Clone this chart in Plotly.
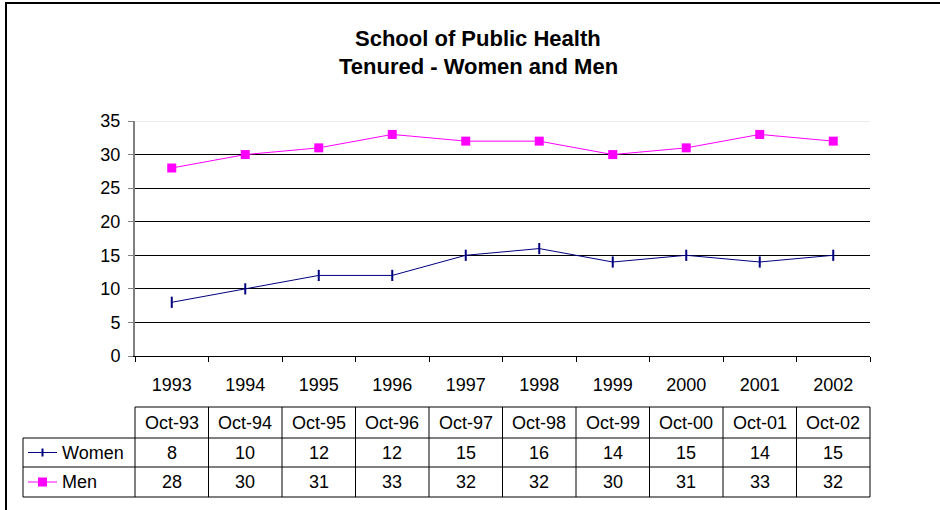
import plotly.graph_objects as go

# data
years = ["1993", "1994", "1995", "1996", "1997", "1998", "1999", "2000", "2001", "2002"]
dates = ["Oct-93", "Oct-94", "Oct-95", "Oct-96", "Oct-97", "Oct-98", "Oct-99", "Oct-00", "Oct-01", "Oct-02"]
women = [8, 10, 12, 12, 15, 16, 14, 15, 14, 15]
men = [28, 30, 31, 33, 32, 32, 30, 31, 33, 32]

FONT = "Liberation Sans, Arial, sans-serif"
NAVY = "#000080"
MAGENTA = "#FF00FF"

W, H = 940, 510
L, R, T, B = 135, 70, 121, 154   # plot area 135..870 x 121..356
PW, PH = W - L - R, H - T - B


def px_x(p):
    return (p - L) / PW


def px_y(p):
    return (H - B - p) / PH


fig = go.Figure()
fig.add_trace(go.Scatter(
    x=years, y=women, name="Women", mode="lines+markers",
    line=dict(color=NAVY, width=1),
    marker=dict(symbol="line-ns", size=8, line=dict(color=NAVY, width=2)),
))
fig.add_trace(go.Scatter(
    x=years, y=men, name="Men", mode="lines+markers",
    line=dict(color=MAGENTA, width=1),
    marker=dict(symbol="square", size=9, color=MAGENTA),
))

shapes = []
# outer frame (left + top visible only)
shapes.append(dict(type="rect", xref="paper", yref="paper",
                   x0=px_x(6), x1=px_x(960), y0=px_y(530), y1=px_y(3),
                   line=dict(color="black", width=2)))
# light top gridline at 35
shapes.append(dict(type="line", xref="paper", yref="y", x0=0, x1=1, y0=35, y1=35,
                   line=dict(color="#d9d9d9", width=1), layer="above"))

# data table below the axis
tbl_top, hdr_bot, row1_bot, row2_bot = 407, 438, 467, 497
leg_left = 23
line = dict(color="black", width=1)
shapes.append(dict(type="line", xref="paper", yref="paper", x0=0, x1=1,
                   y0=px_y(tbl_top), y1=px_y(tbl_top), line=line))
for yy in (hdr_bot, row1_bot, row2_bot):
    shapes.append(dict(type="line", xref="paper", yref="paper", x0=px_x(leg_left), x1=1,
                       y0=px_y(yy), y1=px_y(yy), line=line))
n = len(years)
for k in range(n + 1):
    shapes.append(dict(type="line", xref="paper", yref="paper", x0=k / n, x1=k / n,
                       y0=px_y(tbl_top), y1=px_y(row2_bot), line=line))
shapes.append(dict(type="line", xref="paper", yref="paper", x0=px_x(leg_left), x1=px_x(leg_left),
                   y0=px_y(hdr_bot), y1=px_y(row2_bot), line=line))

# legend keys in the table
ym_w = (hdr_bot + row1_bot) / 2
ym_m = (row1_bot + row2_bot) / 2
shapes.append(dict(type="line", xref="paper", yref="paper", x0=px_x(28), x1=px_x(57),
                   y0=px_y(ym_w), y1=px_y(ym_w), line=dict(color=NAVY, width=1)))
shapes.append(dict(type="line", xref="paper", yref="paper", x0=px_x(42.5), x1=px_x(42.5),
                   y0=px_y(ym_w - 4), y1=px_y(ym_w + 4), line=dict(color=NAVY, width=2)))
shapes.append(dict(type="line", xref="paper", yref="paper", x0=px_x(28), x1=px_x(57),
                   y0=px_y(ym_m), y1=px_y(ym_m), line=dict(color=MAGENTA, width=1)))
shapes.append(dict(type="rect", xref="paper", yref="paper", x0=px_x(38), x1=px_x(47),
                   y0=px_y(ym_m - 4.5), y1=px_y(ym_m + 4.5), fillcolor=MAGENTA,
                   line=dict(color=MAGENTA, width=0)))

annotations = []
cell_font = dict(family=FONT, size=18, color="black")
ym_h = (tbl_top + hdr_bot) / 2
for i in range(n):
    annotations.append(dict(x=i, xref="x", y=px_y(ym_h), yref="paper", text=dates[i],
                            showarrow=False, font=cell_font, xanchor="center", yanchor="middle"))
    annotations.append(dict(x=i, xref="x", y=px_y(ym_w), yref="paper", text=str(women[i]),
                            showarrow=False, font=cell_font, xanchor="center", yanchor="middle"))
    annotations.append(dict(x=i, xref="x", y=px_y(ym_m), yref="paper", text=str(men[i]),
                            showarrow=False, font=cell_font, xanchor="center", yanchor="middle"))
annotations.append(dict(x=px_x(60), xref="paper", y=px_y(ym_w), yref="paper", text="Women",
                        showarrow=False, font=cell_font, xanchor="left", yanchor="middle"))
annotations.append(dict(x=px_x(60), xref="paper", y=px_y(ym_m), yref="paper", text="Men",
                        showarrow=False, font=cell_font, xanchor="left", yanchor="middle"))

# title, two lines
title_font = dict(family=FONT, size=22, color="black")
annotations.append(dict(x=px_x(478), xref="paper", y=px_y(38), yref="paper",
                        text="<b>School of Public Health</b>", showarrow=False,
                        font=title_font, xanchor="center", yanchor="middle"))
annotations.append(dict(x=px_x(478), xref="paper", y=px_y(66), yref="paper",
                        text="<b>Tenured - Women and Men</b>", showarrow=False,
                        font=title_font, xanchor="center", yanchor="middle"))

fig.update_layout(
    width=W, height=H, autosize=False,
    margin=dict(l=L, r=R, t=T, b=B),
    paper_bgcolor="white", plot_bgcolor="white",
    showlegend=False, hovermode=False,
    font=dict(family=FONT, size=18, color="black"),
    shapes=shapes, annotations=annotations,
)
fig.update_xaxes(
    type="category", categoryorder="array", categoryarray=years,
    range=[-0.5, n - 0.5], tickson="boundaries",
    ticks="outside", ticklen=5, tickcolor="black", tickwidth=1,
    showline=True, linecolor="black", linewidth=1,
    showgrid=False, zeroline=False, ticklabelstandoff=12,
    tickfont=dict(family=FONT, size=18, color="black"),
)
fig.update_yaxes(
    range=[0, 35], dtick=5, tick0=0,
    ticks="outside", ticklen=5, tickcolor="#808080", tickwidth=1,
    showline=True, linecolor="#808080", linewidth=2,
    showgrid=True, gridcolor="black", gridwidth=1, zeroline=False,
    ticklabelstandoff=4,
    tickfont=dict(family=FONT, size=18, color="black"),
)

# the page's default body margin would shift the chart by 8px
fig.write_html("out.html", config={"displayModeBar": False},
               post_script="document.body.style.margin='0';")
